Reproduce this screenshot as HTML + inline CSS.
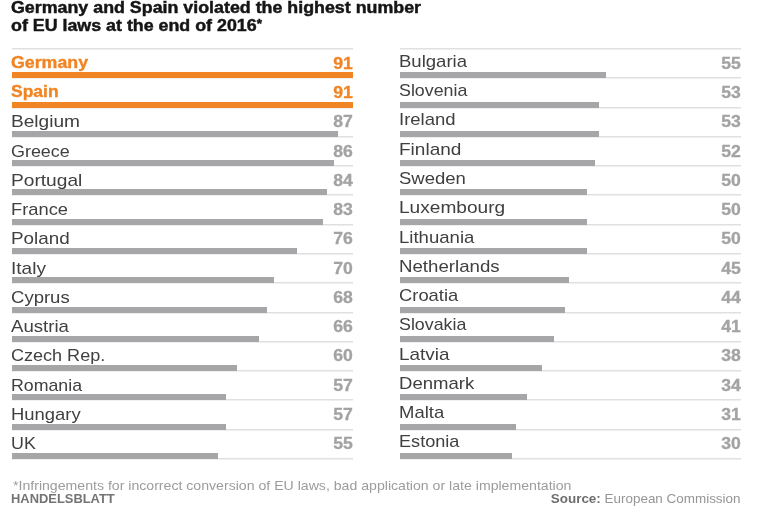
<!DOCTYPE html><html><head><meta charset="utf-8"><style>
html,body{margin:0;padding:0;background:#fff;}body{width:760px;height:506px;position:relative;overflow:hidden;filter:blur(0.45px);font-family:"Liberation Sans",sans-serif;}
.t{position:absolute;white-space:nowrap;}.r{position:absolute;}
</style></head><body>
<div class="t" style="left:11.20px;top:-1px;font-size:16px;line-height:17px;color:#151515;font-weight:700;transform:scaleX(1.114);transform-origin:0 0;-webkit-text-stroke:0.45px #151515;">Germany and Spain violated the highest number</div>
<div class="t" style="left:11.20px;top:17px;font-size:16px;line-height:17px;color:#151515;font-weight:700;transform:scaleX(1.114);transform-origin:0 0;-webkit-text-stroke:0.45px #151515;">of EU laws at the end of 2016<span style='font-size:12px;position:relative;top:-3px'>*</span></div>
<div class="r" style="left:12px;top:48px;width:341px;height:2px;background:linear-gradient(#e0e0e0 50%,#efefef 50%)"></div>
<div class="r" style="left:12px;top:77px;width:341px;height:2px;background:linear-gradient(#e0e0e0 50%,#efefef 50%)"></div>
<div class="r" style="left:12px;top:72px;width:341.00px;height:6px;background:#f18423"></div>
<div class="t" style="left:11.10px;top:53px;font-size:17px;line-height:19px;color:#f18423;font-weight:700;transform:scaleX(1.0448);transform-origin:0 0;-webkit-text-stroke:0.35px currentColor;">Germany</div>
<div class="t" style="right:407.00px;top:55px;font-size:16px;line-height:17px;color:#f18423;font-weight:700;transform:scaleX(1.1);transform-origin:100% 0;-webkit-text-stroke:0.3px currentColor;">91</div>
<div class="r" style="left:12px;top:107px;width:341px;height:2px;background:linear-gradient(#e0e0e0 50%,#efefef 50%)"></div>
<div class="r" style="left:12px;top:102px;width:341.00px;height:6px;background:#f18423"></div>
<div class="t" style="left:11.10px;top:82px;font-size:17px;line-height:19px;color:#f18423;font-weight:700;transform:scaleX(1.0285);transform-origin:0 0;-webkit-text-stroke:0.35px currentColor;">Spain</div>
<div class="t" style="right:407.00px;top:84px;font-size:16px;line-height:17px;color:#f18423;font-weight:700;transform:scaleX(1.1);transform-origin:100% 0;-webkit-text-stroke:0.3px currentColor;">91</div>
<div class="r" style="left:12px;top:136px;width:341px;height:2px;background:linear-gradient(#e0e0e0 50%,#efefef 50%)"></div>
<div class="r" style="left:12px;top:131px;width:326.01px;height:6px;background:#a6a6a8"></div>
<div class="t" style="left:11.10px;top:112px;font-size:17px;line-height:19px;color:#404040;transform:scaleX(1.1238);transform-origin:0 0;">Belgium</div>
<div class="t" style="right:407.00px;top:113px;font-size:16px;line-height:17px;color:#a3a3a3;font-weight:700;transform:scaleX(1.1);transform-origin:100% 0;-webkit-text-stroke:0.3px currentColor;">87</div>
<div class="r" style="left:12px;top:165px;width:341px;height:2px;background:linear-gradient(#e0e0e0 50%,#efefef 50%)"></div>
<div class="r" style="left:12px;top:160px;width:322.26px;height:6px;background:#a6a6a8"></div>
<div class="t" style="left:11.10px;top:142px;font-size:17px;line-height:19px;color:#404040;transform:scaleX(1.054);transform-origin:0 0;">Greece</div>
<div class="t" style="right:407.00px;top:143px;font-size:16px;line-height:17px;color:#a3a3a3;font-weight:700;transform:scaleX(1.1);transform-origin:100% 0;-webkit-text-stroke:0.3px currentColor;">86</div>
<div class="r" style="left:12px;top:194px;width:341px;height:2px;background:linear-gradient(#e0e0e0 50%,#efefef 50%)"></div>
<div class="r" style="left:12px;top:189px;width:314.77px;height:6px;background:#a6a6a8"></div>
<div class="t" style="left:11.10px;top:171px;font-size:17px;line-height:19px;color:#404040;transform:scaleX(1.1262);transform-origin:0 0;">Portugal</div>
<div class="t" style="right:407.00px;top:172px;font-size:16px;line-height:17px;color:#a3a3a3;font-weight:700;transform:scaleX(1.1);transform-origin:100% 0;-webkit-text-stroke:0.3px currentColor;">84</div>
<div class="r" style="left:12px;top:224px;width:341px;height:2px;background:linear-gradient(#e0e0e0 50%,#efefef 50%)"></div>
<div class="r" style="left:12px;top:219px;width:311.02px;height:6px;background:#a6a6a8"></div>
<div class="t" style="left:11.10px;top:200px;font-size:17px;line-height:19px;color:#404040;transform:scaleX(1.0779);transform-origin:0 0;">France</div>
<div class="t" style="right:407.00px;top:201px;font-size:16px;line-height:17px;color:#a3a3a3;font-weight:700;transform:scaleX(1.1);transform-origin:100% 0;-webkit-text-stroke:0.3px currentColor;">83</div>
<div class="r" style="left:12px;top:253px;width:341px;height:2px;background:linear-gradient(#e0e0e0 50%,#efefef 50%)"></div>
<div class="r" style="left:12px;top:248px;width:284.79px;height:6px;background:#a6a6a8"></div>
<div class="t" style="left:11.10px;top:229px;font-size:17px;line-height:19px;color:#404040;transform:scaleX(1.1085);transform-origin:0 0;">Poland</div>
<div class="t" style="right:407.00px;top:230px;font-size:16px;line-height:17px;color:#a3a3a3;font-weight:700;transform:scaleX(1.1);transform-origin:100% 0;-webkit-text-stroke:0.3px currentColor;">76</div>
<div class="r" style="left:12px;top:282px;width:341px;height:2px;background:linear-gradient(#e0e0e0 50%,#efefef 50%)"></div>
<div class="r" style="left:12px;top:277px;width:262.31px;height:6px;background:#a6a6a8"></div>
<div class="t" style="left:11.10px;top:259px;font-size:17px;line-height:19px;color:#404040;transform:scaleX(1.1203);transform-origin:0 0;">Italy</div>
<div class="t" style="right:407.00px;top:260px;font-size:16px;line-height:17px;color:#a3a3a3;font-weight:700;transform:scaleX(1.1);transform-origin:100% 0;-webkit-text-stroke:0.3px currentColor;">70</div>
<div class="r" style="left:12px;top:312px;width:341px;height:2px;background:linear-gradient(#e0e0e0 50%,#efefef 50%)"></div>
<div class="r" style="left:12px;top:307px;width:254.81px;height:6px;background:#a6a6a8"></div>
<div class="t" style="left:11.10px;top:288px;font-size:17px;line-height:19px;color:#404040;transform:scaleX(1.0896);transform-origin:0 0;">Cyprus</div>
<div class="t" style="right:407.00px;top:289px;font-size:16px;line-height:17px;color:#a3a3a3;font-weight:700;transform:scaleX(1.1);transform-origin:100% 0;-webkit-text-stroke:0.3px currentColor;">68</div>
<div class="r" style="left:12px;top:341px;width:341px;height:2px;background:linear-gradient(#e0e0e0 50%,#efefef 50%)"></div>
<div class="r" style="left:12px;top:336px;width:247.32px;height:6px;background:#a6a6a8"></div>
<div class="t" style="left:11.10px;top:317px;font-size:17px;line-height:19px;color:#404040;transform:scaleX(1.0951);transform-origin:0 0;">Austria</div>
<div class="t" style="right:407.00px;top:318px;font-size:16px;line-height:17px;color:#a3a3a3;font-weight:700;transform:scaleX(1.1);transform-origin:100% 0;-webkit-text-stroke:0.3px currentColor;">66</div>
<div class="r" style="left:12px;top:370px;width:341px;height:2px;background:linear-gradient(#e0e0e0 50%,#efefef 50%)"></div>
<div class="r" style="left:12px;top:365px;width:224.84px;height:6px;background:#a6a6a8"></div>
<div class="t" style="left:11.10px;top:346px;font-size:17px;line-height:19px;color:#404040;transform:scaleX(1.0605);transform-origin:0 0;">Czech Rep.</div>
<div class="t" style="right:407.00px;top:347px;font-size:16px;line-height:17px;color:#a3a3a3;font-weight:700;transform:scaleX(1.1);transform-origin:100% 0;-webkit-text-stroke:0.3px currentColor;">60</div>
<div class="r" style="left:12px;top:399px;width:341px;height:2px;background:linear-gradient(#e0e0e0 50%,#efefef 50%)"></div>
<div class="r" style="left:12px;top:394px;width:213.59px;height:6px;background:#a6a6a8"></div>
<div class="t" style="left:11.10px;top:376px;font-size:17px;line-height:19px;color:#404040;transform:scaleX(1.0437);transform-origin:0 0;">Romania</div>
<div class="t" style="right:407.00px;top:377px;font-size:16px;line-height:17px;color:#a3a3a3;font-weight:700;transform:scaleX(1.1);transform-origin:100% 0;-webkit-text-stroke:0.3px currentColor;">57</div>
<div class="r" style="left:12px;top:429px;width:341px;height:2px;background:linear-gradient(#e0e0e0 50%,#efefef 50%)"></div>
<div class="r" style="left:12px;top:424px;width:213.59px;height:6px;background:#a6a6a8"></div>
<div class="t" style="left:11.10px;top:405px;font-size:17px;line-height:19px;color:#404040;transform:scaleX(1.0836);transform-origin:0 0;">Hungary</div>
<div class="t" style="right:407.00px;top:406px;font-size:16px;line-height:17px;color:#a3a3a3;font-weight:700;transform:scaleX(1.1);transform-origin:100% 0;-webkit-text-stroke:0.3px currentColor;">57</div>
<div class="r" style="left:12px;top:458px;width:341px;height:2px;background:linear-gradient(#e0e0e0 50%,#efefef 50%)"></div>
<div class="r" style="left:12px;top:453px;width:206.10px;height:6px;background:#a6a6a8"></div>
<div class="t" style="left:11.10px;top:434px;font-size:17px;line-height:19px;color:#404040;transform:scaleX(1.0508);transform-origin:0 0;">UK</div>
<div class="t" style="right:407.00px;top:435px;font-size:16px;line-height:17px;color:#a3a3a3;font-weight:700;transform:scaleX(1.1);transform-origin:100% 0;-webkit-text-stroke:0.3px currentColor;">55</div>
<div class="r" style="left:400px;top:48px;width:341px;height:2px;background:linear-gradient(#e0e0e0 50%,#efefef 50%)"></div>
<div class="r" style="left:400px;top:77px;width:341px;height:2px;background:linear-gradient(#e0e0e0 50%,#efefef 50%)"></div>
<div class="r" style="left:400px;top:72px;width:206.10px;height:6px;background:#a6a6a8"></div>
<div class="t" style="left:399.10px;top:52px;font-size:17px;line-height:19px;color:#404040;transform:scaleX(1.0911);transform-origin:0 0;">Bulgaria</div>
<div class="t" style="right:19.00px;top:55px;font-size:16px;line-height:17px;color:#a3a3a3;font-weight:700;transform:scaleX(1.1);transform-origin:100% 0;-webkit-text-stroke:0.3px currentColor;">55</div>
<div class="r" style="left:400px;top:107px;width:341px;height:2px;background:linear-gradient(#e0e0e0 50%,#efefef 50%)"></div>
<div class="r" style="left:400px;top:102px;width:198.60px;height:6px;background:#a6a6a8"></div>
<div class="t" style="left:399.10px;top:81px;font-size:17px;line-height:19px;color:#404040;transform:scaleX(1.0488);transform-origin:0 0;">Slovenia</div>
<div class="t" style="right:19.00px;top:84px;font-size:16px;line-height:17px;color:#a3a3a3;font-weight:700;transform:scaleX(1.1);transform-origin:100% 0;-webkit-text-stroke:0.3px currentColor;">53</div>
<div class="r" style="left:400px;top:136px;width:341px;height:2px;background:linear-gradient(#e0e0e0 50%,#efefef 50%)"></div>
<div class="r" style="left:400px;top:131px;width:198.60px;height:6px;background:#a6a6a8"></div>
<div class="t" style="left:399.10px;top:110px;font-size:17px;line-height:19px;color:#404040;transform:scaleX(1.0891);transform-origin:0 0;">Ireland</div>
<div class="t" style="right:19.00px;top:113px;font-size:16px;line-height:17px;color:#a3a3a3;font-weight:700;transform:scaleX(1.1);transform-origin:100% 0;-webkit-text-stroke:0.3px currentColor;">53</div>
<div class="r" style="left:400px;top:165px;width:341px;height:2px;background:linear-gradient(#e0e0e0 50%,#efefef 50%)"></div>
<div class="r" style="left:400px;top:160px;width:194.86px;height:6px;background:#a6a6a8"></div>
<div class="t" style="left:399.10px;top:140px;font-size:17px;line-height:19px;color:#404040;transform:scaleX(1.119);transform-origin:0 0;">Finland</div>
<div class="t" style="right:19.00px;top:143px;font-size:16px;line-height:17px;color:#a3a3a3;font-weight:700;transform:scaleX(1.1);transform-origin:100% 0;-webkit-text-stroke:0.3px currentColor;">52</div>
<div class="r" style="left:400px;top:194px;width:341px;height:2px;background:linear-gradient(#e0e0e0 50%,#efefef 50%)"></div>
<div class="r" style="left:400px;top:189px;width:187.36px;height:6px;background:#a6a6a8"></div>
<div class="t" style="left:399.10px;top:169px;font-size:17px;line-height:19px;color:#404040;transform:scaleX(1.0891);transform-origin:0 0;">Sweden</div>
<div class="t" style="right:19.00px;top:172px;font-size:16px;line-height:17px;color:#a3a3a3;font-weight:700;transform:scaleX(1.1);transform-origin:100% 0;-webkit-text-stroke:0.3px currentColor;">50</div>
<div class="r" style="left:400px;top:224px;width:341px;height:2px;background:linear-gradient(#e0e0e0 50%,#efefef 50%)"></div>
<div class="r" style="left:400px;top:219px;width:187.36px;height:6px;background:#a6a6a8"></div>
<div class="t" style="left:399.10px;top:198px;font-size:17px;line-height:19px;color:#404040;transform:scaleX(1.1229);transform-origin:0 0;">Luxembourg</div>
<div class="t" style="right:19.00px;top:201px;font-size:16px;line-height:17px;color:#a3a3a3;font-weight:700;transform:scaleX(1.1);transform-origin:100% 0;-webkit-text-stroke:0.3px currentColor;">50</div>
<div class="r" style="left:400px;top:253px;width:341px;height:2px;background:linear-gradient(#e0e0e0 50%,#efefef 50%)"></div>
<div class="r" style="left:400px;top:248px;width:187.36px;height:6px;background:#a6a6a8"></div>
<div class="t" style="left:399.10px;top:228px;font-size:17px;line-height:19px;color:#404040;transform:scaleX(1.092);transform-origin:0 0;">Lithuania</div>
<div class="t" style="right:19.00px;top:230px;font-size:16px;line-height:17px;color:#a3a3a3;font-weight:700;transform:scaleX(1.1);transform-origin:100% 0;-webkit-text-stroke:0.3px currentColor;">50</div>
<div class="r" style="left:400px;top:282px;width:341px;height:2px;background:linear-gradient(#e0e0e0 50%,#efefef 50%)"></div>
<div class="r" style="left:400px;top:277px;width:168.63px;height:6px;background:#a6a6a8"></div>
<div class="t" style="left:399.10px;top:257px;font-size:17px;line-height:19px;color:#404040;transform:scaleX(1.0972);transform-origin:0 0;">Netherlands</div>
<div class="t" style="right:19.00px;top:260px;font-size:16px;line-height:17px;color:#a3a3a3;font-weight:700;transform:scaleX(1.1);transform-origin:100% 0;-webkit-text-stroke:0.3px currentColor;">45</div>
<div class="r" style="left:400px;top:312px;width:341px;height:2px;background:linear-gradient(#e0e0e0 50%,#efefef 50%)"></div>
<div class="r" style="left:400px;top:307px;width:164.88px;height:6px;background:#a6a6a8"></div>
<div class="t" style="left:399.10px;top:286px;font-size:17px;line-height:19px;color:#404040;transform:scaleX(1.0809);transform-origin:0 0;">Croatia</div>
<div class="t" style="right:19.00px;top:289px;font-size:16px;line-height:17px;color:#a3a3a3;font-weight:700;transform:scaleX(1.1);transform-origin:100% 0;-webkit-text-stroke:0.3px currentColor;">44</div>
<div class="r" style="left:400px;top:341px;width:341px;height:2px;background:linear-gradient(#e0e0e0 50%,#efefef 50%)"></div>
<div class="r" style="left:400px;top:336px;width:153.64px;height:6px;background:#a6a6a8"></div>
<div class="t" style="left:399.10px;top:315px;font-size:17px;line-height:19px;color:#404040;transform:scaleX(1.048);transform-origin:0 0;">Slovakia</div>
<div class="t" style="right:19.00px;top:318px;font-size:16px;line-height:17px;color:#a3a3a3;font-weight:700;transform:scaleX(1.1);transform-origin:100% 0;-webkit-text-stroke:0.3px currentColor;">41</div>
<div class="r" style="left:400px;top:370px;width:341px;height:2px;background:linear-gradient(#e0e0e0 50%,#efefef 50%)"></div>
<div class="r" style="left:400px;top:365px;width:142.40px;height:6px;background:#a6a6a8"></div>
<div class="t" style="left:399.10px;top:345px;font-size:17px;line-height:19px;color:#404040;transform:scaleX(1.1118);transform-origin:0 0;">Latvia</div>
<div class="t" style="right:19.00px;top:347px;font-size:16px;line-height:17px;color:#a3a3a3;font-weight:700;transform:scaleX(1.1);transform-origin:100% 0;-webkit-text-stroke:0.3px currentColor;">38</div>
<div class="r" style="left:400px;top:399px;width:341px;height:2px;background:linear-gradient(#e0e0e0 50%,#efefef 50%)"></div>
<div class="r" style="left:400px;top:394px;width:127.41px;height:6px;background:#a6a6a8"></div>
<div class="t" style="left:399.10px;top:374px;font-size:17px;line-height:19px;color:#404040;transform:scaleX(1.0918);transform-origin:0 0;">Denmark</div>
<div class="t" style="right:19.00px;top:377px;font-size:16px;line-height:17px;color:#a3a3a3;font-weight:700;transform:scaleX(1.1);transform-origin:100% 0;-webkit-text-stroke:0.3px currentColor;">34</div>
<div class="r" style="left:400px;top:429px;width:341px;height:2px;background:linear-gradient(#e0e0e0 50%,#efefef 50%)"></div>
<div class="r" style="left:400px;top:424px;width:116.16px;height:6px;background:#a6a6a8"></div>
<div class="t" style="left:399.10px;top:403px;font-size:17px;line-height:19px;color:#404040;transform:scaleX(1.0865);transform-origin:0 0;">Malta</div>
<div class="t" style="right:19.00px;top:406px;font-size:16px;line-height:17px;color:#a3a3a3;font-weight:700;transform:scaleX(1.1);transform-origin:100% 0;-webkit-text-stroke:0.3px currentColor;">31</div>
<div class="r" style="left:400px;top:458px;width:341px;height:2px;background:linear-gradient(#e0e0e0 50%,#efefef 50%)"></div>
<div class="r" style="left:400px;top:453px;width:112.42px;height:6px;background:#a6a6a8"></div>
<div class="t" style="left:399.10px;top:432px;font-size:17px;line-height:19px;color:#404040;transform:scaleX(1.066);transform-origin:0 0;">Estonia</div>
<div class="t" style="right:19.00px;top:435px;font-size:16px;line-height:17px;color:#a3a3a3;font-weight:700;transform:scaleX(1.1);transform-origin:100% 0;-webkit-text-stroke:0.3px currentColor;">30</div>
<div class="t" style="left:12.60px;top:478px;font-size:13.2px;line-height:15px;color:#9c9c9c;transform:scaleX(1.07);transform-origin:0 0;">*Infringements for incorrect conversion of EU laws, bad application or late implementation</div>
<div class="t" style="left:11.20px;top:491px;font-size:13.4px;line-height:15px;color:#747474;font-weight:700;transform:scaleX(0.964);transform-origin:0 0;">HANDELSBLATT</div>
<div class="t" style="right:19.00px;top:491px;font-size:13px;line-height:15px;color:#959595;transform:scaleX(1.034);transform-origin:100% 0;"><b style="color:#6e6e6e">Source:</b> European Commission</div>
</body></html>
